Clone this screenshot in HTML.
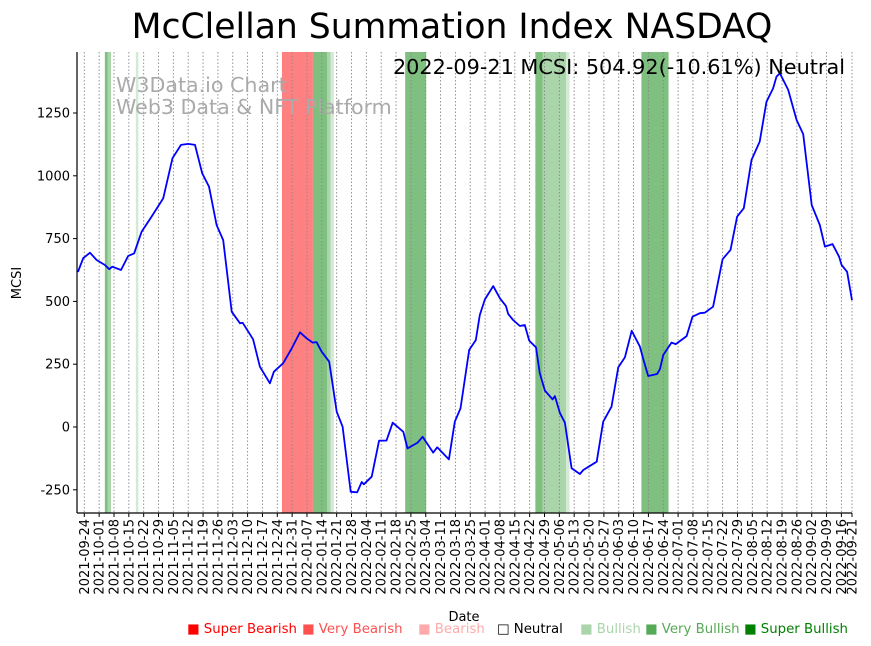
<!DOCTYPE html>
<html><head><meta charset="utf-8"><style>
html,body{margin:0;padding:0;background:#fff;}
svg{display:block;font-family:"DejaVu Sans","Liberation Sans",sans-serif;}
</style></head><body>
<svg id="chart" width="871" height="646" viewBox="0 0 871 646" xmlns="http://www.w3.org/2000/svg">
<rect width="871" height="646" fill="#fff"/>
<g id="bands"></g>
<g id="grid"></g>
<text x="116" y="92" font-size="20.6" fill="#aaa">W3Data.io Chart</text>
<text x="116" y="114" font-size="20.6" fill="#aaa">Web3 Data &amp; NFT Platform</text>
<g id="line"></g>
<g id="axes"></g>
<text x="452" y="38" font-size="34.6" text-anchor="middle" fill="#000">McClellan Summation Index NASDAQ</text>
<text x="845" y="74" font-size="20.8" text-anchor="end" fill="#000">2022-09-21 MCSI: 504.92(-10.61%) Neutral</text>
<text transform="translate(21,283) rotate(-90)" font-size="13" text-anchor="middle">MCSI</text>
<text x="464" y="621" font-size="13" text-anchor="middle">Date</text>
<g id="legend" font-size="13.3">
<text x="187" y="633" fill="#ff0000">■ Super Bearish</text>
<text x="302" y="633" fill="#ff5050">■ Very Bearish</text>
<text x="418" y="633" fill="#ffaaaa">■ Bearish</text>
<text x="497" y="633" fill="#000">□ Neutral</text>
<text x="580" y="633" fill="#aad4aa">■ Bullish</text>
<text x="645" y="633" fill="#55aa55">■ Very Bullish</text>
<text x="744" y="633" fill="#008000">■ Super Bullish</text>
</g>
</svg>
<script>
// days since 2021-09-21
const days = [0,2.5,5.7,8.8,12.7,14.8,16.2,20.3,23.7,26.5,30,34.7,40.2,44.6,48.6,52,55.2,58.6,61.8,65.4,68.5,72.5,76.4,77.7,82.6,85.8,90.5,92.4,96.8,100.8,104.7,107.8,110.7,112.5,114.9,118.5,122,124.8,128.6,131.7,133.8,134.8,138.5,142,145.5,148.4,153.4,155.4,160.2,162.5,167.5,169.4,174.9,177.7,180.4,184.5,187.6,189.5,191.9,195.8,199,201.8,202.9,205.2,208.4,210.7,212.8,216,217.8,220.2,223.8,224.9,227.3,229.6,232.8,236.7,238.3,244.6,247.7,251.6,254.8,257.9,261.1,265,266.6,268.9,273.1,274.4,276,279.9,281.9,287,289.8,293.3,295.6,299.5,304,307.7,310.8,314,317.6,321.5,324.7,327.8,329.4,331,334.9,337.3,338.9,342,346,349.8,352.2,355.8,358.9,360.1,362.7,365];
const mcsi = [617,672,694,665,645,628,638,625,681,691,777,837,910,1070,1123,1127,1123,1010,957,804,744,459,413,415,349,240,174,220,254,313,377,353,336,338,300,260,61,1,-258,-260,-219,-228,-198,-54,-54,17,-19,-85,-62,-39,-102,-81,-129,21,74,307,346,446,508,561,512,482,450,426,402,406,344,317,214,145,110,123,55,17,-164,-187,-171,-138,21,81,238,277,383,320,270,203,211,230,287,336,330,362,439,453,455,479,668,705,837,871,1063,1136,1295,1348,1395,1408,1342,1269,1222,1166,884,804,718,728,678,645,618,504.92];
const yTicks = [-250,0,250,500,750,1000,1250];
const tickLabels = ["2021-09-24","2021-10-01","2021-10-08","2021-10-15","2021-10-22","2021-10-29","2021-11-05","2021-11-12","2021-11-19","2021-11-26","2021-12-03","2021-12-10","2021-12-17","2021-12-24","2021-12-31","2022-01-07","2022-01-14","2022-01-21","2022-01-28","2022-02-04","2022-02-11","2022-02-18","2022-02-25","2022-03-04","2022-03-11","2022-03-18","2022-03-25","2022-04-01","2022-04-08","2022-04-15","2022-04-22","2022-04-29","2022-05-06","2022-05-13","2022-05-20","2022-05-27","2022-06-03","2022-06-10","2022-06-17","2022-06-24","2022-07-01","2022-07-08","2022-07-15","2022-07-22","2022-07-29","2022-08-05","2022-08-12","2022-08-19","2022-08-26","2022-09-02","2022-09-09","2022-09-16","2022-09-21"];
// bands: start day, end day, level
const bandStart = [12.7,14.1,27.3,96.2,110.8,117.6,119.2,154.3,215.7,219.2,230.2,265.7];
const bandEnd   = [14.1,15.6,28.5,110.8,117.6,119.2,120.7,164.2,219.2,230.2,231.8,278.5];
const bandLevel = ["verybull","bull","lightbull","bear","verybull","bull","lightbull","verybull","verybull","bull","lightbull","verybull"];

const NS="http://www.w3.org/2000/svg";
const X0=77.94, XS=2.1207, Y0=427, YS=0.2512, TOP=52, BOT=513, LEFT=77, RIGHT=852;
const xs=d=>X0+d*XS, ys=v=>Y0-v*YS;
function mk(tag,parent){const e=document.createElementNS(NS,tag);parent.appendChild(e);return e;}
const colors={bear:"#ff8080",verybull:"#7fbf7f",bull:"#aad5aa",lightbull:"#d5ead5"};
const bands=document.getElementById('bands');
bandStart.forEach((s,i)=>{const r=mk('rect',bands);


r.setAttribute('x',xs(s));r.setAttribute('width',xs(bandEnd[i])-xs(s));r.setAttribute('y',TOP);r.setAttribute('height',BOT-TOP);r.setAttribute('fill',colors[bandLevel[i]]);});
const base=Date.UTC(2021,8,21);
const dayOf=s=>{const p=s.split('-');return (Date.UTC(+p[0],+p[1]-1,+p[2])-base)/864e5;};
const grid=document.getElementById('grid'), axes=document.getElementById('axes');
tickLabels.forEach(t=>{const x=xs(dayOf(t));
const l=mk('line',grid);


l.setAttribute('x1',x);l.setAttribute('x2',x);l.setAttribute('y1',TOP);l.setAttribute('y2',BOT);l.setAttribute('stroke','#888');l.setAttribute('stroke-width','0.9');l.setAttribute('stroke-dasharray','1.5,2');
const tk=mk('line',axes);


tk.setAttribute('x1',x);tk.setAttribute('x2',x);tk.setAttribute('y1',BOT);tk.setAttribute('y2',BOT+4);tk.setAttribute('stroke','#000');
const tx=mk('text',axes);


tx.setAttribute('transform',`translate(${x+4.5},${BOT+6}) rotate(-90)`);tx.setAttribute('text-anchor','end');tx.setAttribute('font-size','13');tx.textContent=t;});
yTicks.forEach(v=>{const y=ys(v);
const tk=mk('line',axes);


tk.setAttribute('x1',LEFT-4);tk.setAttribute('x2',LEFT);tk.setAttribute('y1',y);tk.setAttribute('y2',y);tk.setAttribute('stroke','#000');
const tx=mk('text',axes);


tx.setAttribute('x',LEFT-7);tx.setAttribute('y',y+4.5);tx.setAttribute('text-anchor','end');tx.setAttribute('font-size','13');tx.textContent=v;});
const sl=mk('line',axes);


sl.setAttribute('x1',LEFT);sl.setAttribute('x2',LEFT);sl.setAttribute('y1',TOP);sl.setAttribute('y2',BOT);sl.setAttribute('stroke','#000');sl.setAttribute('stroke-width','1.2');
const sb=mk('line',axes);


sb.setAttribute('x1',LEFT);sb.setAttribute('x2',RIGHT);sb.setAttribute('y1',BOT);sb.setAttribute('y2',BOT);sb.setAttribute('stroke','#000');sb.setAttribute('stroke-width','1.2');
const p=mk('polyline',document.getElementById('line'));


p.setAttribute('points',days.map((d,i)=>xs(d).toFixed(1)+','+ys(mcsi[i]).toFixed(1)).join(' '));
p.setAttribute('fill','none');p.setAttribute('stroke','#0000ff');p.setAttribute('stroke-width','1.8');p.setAttribute('stroke-linejoin','round');
</script>
</body></html>
